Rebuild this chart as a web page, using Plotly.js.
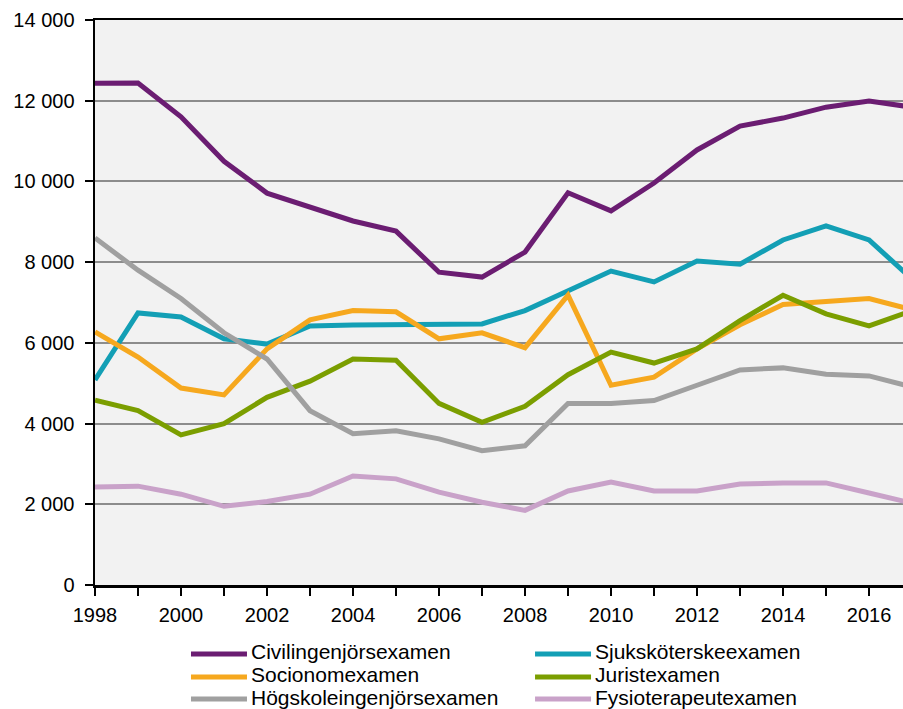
<!DOCTYPE html>
<html>
<head>
<meta charset="utf-8">
<script src="https://cdn.plot.ly/plotly-3.0.1.min.js"></script>
<style>html,body{margin:0;padding:0;background:#fff;}#chart{width:903px;height:709px;}</style>
</head>
<body>
<div id="chart"></div>
<script>
const years = [1998,1999,2000,2001,2002,2003,2004,2005,2006,2007,2008,2009,2010,2011,2012,2013,2014,2015,2016,2017];
const civilingenjor = [12430,12440,11600,10500,9710,9370,9020,8770,7750,7630,8250,9720,9270,9960,10780,11370,11570,11840,11990,11840];
const sjukskoterske = [5080,6740,6640,6100,5970,6420,6440,6460,6450,6470,6800,7280,7780,7510,8030,7950,8550,8900,8550,7580];
const socionom = [6270,5650,4880,4710,5850,6570,6800,6770,6100,6250,5880,7180,4950,5150,5850,6450,6950,7020,7100,6820];
const jurist = [4580,4320,3720,4000,4650,5050,5600,5570,4500,4030,4430,5210,5770,5500,5850,6550,7180,6720,6420,6800];
const hogskoleingenjor = [8600,7800,7100,6250,5600,4320,3750,3820,3620,3330,3450,4500,4500,4570,4950,5330,5380,5220,5180,4910];
const fysioterapeut = [2430,2450,2250,1950,2070,2250,2700,2630,2300,2050,1850,2330,2550,2330,2330,2500,2530,2530,2280,2030];

const seriesNames = ['Civilingenjörsexamen','Sjuksköterskeexamen','Socionomexamen','Juristexamen','Högskoleingenjörsexamen','Fysioterapeutexamen'];
const seriesData = [civilingenjor, sjukskoterske, socionom, jurist, hogskoleingenjor, fysioterapeut];
const colors = ['#6B1D72','#139FB5','#F6A81E','#7B9E00','#A0A0A0','#C9A2C9'];
const xTickVals = [1998,2000,2002,2004,2006,2008,2010,2012,2014,2016];
const yTickVals = [0,2000,4000,6000,8000,10000,12000,14000];

const traces = seriesNames.map((n,i)=>({
  type:'scatter', mode:'lines', name:n, x:years, y:seriesData[i],
  line:{color:colors[i], width:5}, showlegend:false
}));

// Legend layout (two columns, three rows) drawn as shapes + annotations in paper coords
const legendColX = [[0.1188,0.1881,0.1918],[0.5446,0.6139,0.6176]]; // [lineStart, lineEnd, textStart]
const legendRowY = [-0.1221,-0.1628,-0.2018];
const shapes = [];
const annotations = [];
seriesNames.forEach((n,i)=>{
  const c = legendColX[i%2], r = legendRowY[Math.floor(i/2)];
  shapes.push({type:'line', xref:'paper', yref:'paper', x0:c[0], x1:c[1], y0:r, y1:r,
    line:{color:colors[i], width:5}});
  annotations.push({xref:'paper', yref:'paper', x:c[2], y:r, xanchor:'left', yanchor:'middle',
    yshift:2, borderpad:0, text:n, showarrow:false, font:{size:21, color:'#000'}});
});

const layout = {
  width:903, height:709,
  margin:{l:95, r:0, t:20, b:124, autoexpand:false},
  paper_bgcolor:'#ffffff', plot_bgcolor:'#F2F2F2',
  separators:', ',
  font:{family:'Liberation Sans, Arial, sans-serif', color:'#000', size:20},
  showlegend:false,
  shapes:shapes, annotations:annotations,
  xaxis:{range:[1998,2016.79], tickvals:xTickVals, ticks:'outside', ticklen:8, tickwidth:2,
    tickcolor:'#000', showgrid:false, zeroline:false, showline:true, linecolor:'#000', linewidth:2.5,
    mirror:true, tickfont:{size:20}, ticklabelstandoff:2,
    minor:{dtick:1, ticks:'outside', ticklen:8, tickwidth:2, tickcolor:'#000', showgrid:false}},
  yaxis:{range:[0,14000], tickvals:yTickVals, tickformat:',d', ticks:'outside', ticklen:8, tickwidth:2,
    tickcolor:'#000', showgrid:true, gridcolor:'#8C8C8C', gridwidth:2, zeroline:false,
    showline:true, linecolor:'#000', linewidth:2.5, mirror:true, tickfont:{size:20}, ticklabelstandoff:6}
};
Plotly.newPlot('chart', traces, layout, {displayModeBar:false, staticPlot:true});
</script>
</body>
</html>
